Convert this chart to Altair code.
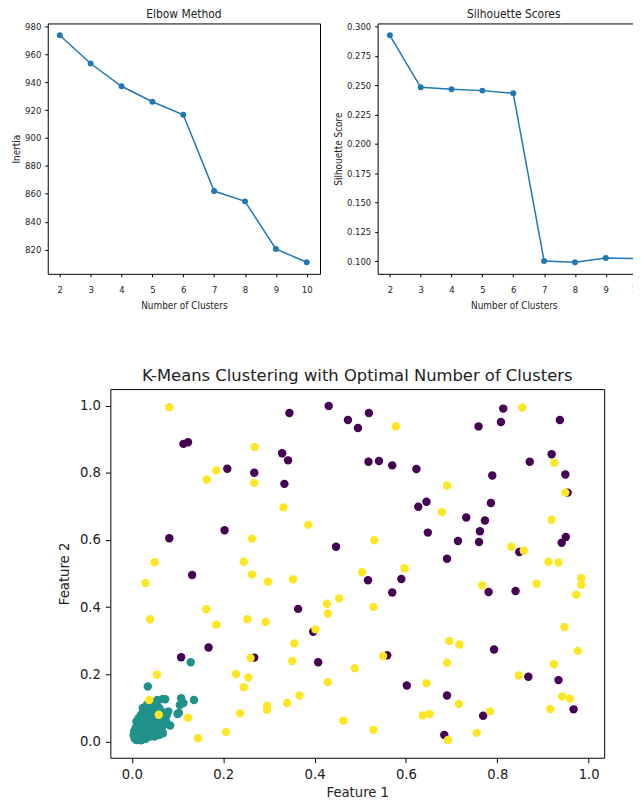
import altair as alt
import pandas as pd

# ---------------- data ----------------
clusters = [2, 3, 4, 5, 6, 7, 8, 9, 10]
inertia = [973.5, 953.3, 937.0, 925.9, 916.6, 862.0, 854.6, 820.5, 811.0]
silhouette = [0.2924, 0.2481, 0.2464, 0.2453, 0.2430, 0.1003, 0.0992, 0.1028, 0.1022]

purple_x = [0.113, 0.123, 0.209, 0.268, 0.329, 0.342, 0.345, 0.334, 0.431, 0.473,
            0.495, 0.082, 0.203, 0.447, 0.132, 0.519, 0.759, 0.808, 0.813, 0.937,
            0.518, 0.541, 0.570, 0.623, 0.871, 0.919, 0.949, 0.789, 0.954, 0.645,
            0.627, 0.786, 0.732, 0.773, 0.762, 0.648, 0.714, 0.760, 0.950, 0.941,
            0.848, 0.690, 0.364, 0.397, 0.408, 0.108, 0.168, 0.268, 0.517, 0.590,
            0.570, 0.781, 0.840, 0.793, 0.559, 0.602, 0.690, 0.769, 0.684, 0.868,
            0.934, 0.967]
purple_y = [0.886, 0.891, 0.812, 0.800, 0.858, 0.837, 0.978, 0.767, 0.999, 0.957,
            0.933, 0.605, 0.629, 0.580, 0.496, 0.978, 0.938, 0.951, 0.991, 0.957,
            0.833, 0.835, 0.822, 0.811, 0.833, 0.855, 0.795, 0.792, 0.741, 0.714,
            0.699, 0.710, 0.667, 0.658, 0.626, 0.622, 0.597, 0.594, 0.609, 0.592,
            0.564, 0.544, 0.395, 0.327, 0.236, 0.251, 0.280, 0.250, 0.480, 0.484,
            0.444, 0.445, 0.448, 0.274, 0.257, 0.167, 0.137, 0.077, 0.020, 0.193,
            0.183, 0.096]

yellow_x = [0.082, 0.164, 0.185, 0.269, 0.268, 0.332, 0.386, 0.263, 0.050, 0.245,
            0.263, 0.578, 0.855, 0.925, 0.690, 0.949, 0.679, 0.919, 0.531, 0.831,
            0.858, 0.912, 0.934, 0.504, 0.597, 0.298, 0.353, 0.030, 0.040, 0.163,
            0.185, 0.253, 0.293, 0.454, 0.427, 0.429, 0.402, 0.356, 0.351, 0.488,
            0.055, 0.228, 0.255, 0.245, 0.260, 0.429, 0.367, 0.340, 0.296, 0.296,
            0.237, 0.463, 0.206, 0.145, 0.123, 0.038, 0.059, 0.529, 0.767, 0.886,
            0.984, 0.984, 0.973, 0.947, 0.976, 0.695, 0.717, 0.690, 0.550, 0.645,
            0.716, 0.637, 0.652, 0.784, 0.755, 0.692, 0.529, 0.847, 0.924, 0.942,
            0.959, 0.916]
yellow_y = [0.995, 0.780, 0.807, 0.877, 0.770, 0.697, 0.645, 0.604, 0.534, 0.535,
            0.497, 0.938, 0.994, 0.830, 0.762, 0.741, 0.683, 0.660, 0.599, 0.580,
            0.568, 0.535, 0.533, 0.504, 0.516, 0.476, 0.483, 0.472, 0.364, 0.394,
            0.348, 0.364, 0.356, 0.426, 0.410, 0.381, 0.334, 0.292, 0.240, 0.218,
            0.199, 0.201, 0.191, 0.162, 0.249, 0.177, 0.137, 0.115, 0.107, 0.095,
            0.084, 0.062, 0.029, 0.010, 0.071, 0.124, 0.080, 0.401, 0.465, 0.470,
            0.487, 0.467, 0.437, 0.341, 0.270, 0.299, 0.289, 0.235, 0.255, 0.174,
            0.112, 0.078, 0.082, 0.090, 0.026, 0.005, 0.035, 0.197, 0.230, 0.134,
            0.128, 0.097]

teal_x = [0.129, 0.035, 0.073, 0.056, 0.108, 0.136, 0.105, 0.113, 0.100, 0.084,
          0.076, 0.103, 0.068, 0.060, 0.065, 0.070, 0.080, 0.045, 0.050, 0.030,
          0.025, 0.020, 0.015, 0.010, 0.012, 0.008, 0.005, 0.004, 0.006, 0.010,
          0.015, 0.020, 0.025, 0.030, 0.035, 0.040, 0.045, 0.050, 0.055, 0.060,
          0.065, 0.055, 0.045, 0.040, 0.030, 0.020, 0.035, 0.025, 0.018, 0.030,
          0.020, 0.035, 0.040, 0.028, 0.015, 0.050, 0.060, 0.070, 0.075, 0.045,
          0.038, 0.012, 0.022, 0.008, 0.050, 0.040, 0.055, 0.030, 0.015, 0.060,
          0.050, 0.068, 0.024, 0.033, 0.043]
teal_y = [0.236, 0.164, 0.126, 0.124, 0.129, 0.124, 0.109, 0.115, 0.082, 0.048,
          0.078, 0.085, 0.127, 0.100, 0.090, 0.070, 0.090, 0.095, 0.085, 0.100,
          0.090, 0.080, 0.070, 0.060, 0.050, 0.040, 0.030, 0.020, 0.010, 0.005,
          0.012, 0.020, 0.030, 0.040, 0.050, 0.060, 0.070, 0.065, 0.055, 0.045,
          0.035, 0.030, 0.025, 0.015, 0.008, 0.004, 0.020, 0.045, 0.035, 0.060,
          0.055, 0.075, 0.085, 0.070, 0.025, 0.045, 0.060, 0.050, 0.060, 0.040,
          0.030, 0.015, 0.012, 0.008, 0.100, 0.105, 0.110, 0.085, 0.045, 0.020,
          0.015, 0.025, 0.100, 0.110, 0.115]

# ---------------- styling ----------------
BLUE = "#1f77b4"
TOP_FONT = "DejaVu Sans Condensed, DejaVu Sans"
BOT_FONT = "DejaVu Sans"
FRAME = alt.ViewBackground(stroke="black", strokeWidth=1, fill="white")

def top_axis(**kw):
    base = dict(domain=False, grid=False, ticks=True, tickSize=3, tickColor="black",
                tickWidth=1, labelFont=TOP_FONT, labelFontSize=9.5, labelColor="#222",
                titleFont=TOP_FONT, titleFontSize=10, titleFontWeight="normal",
                titleColor="#222")
    base.update(kw)
    return alt.Axis(**base)

def bot_axis(**kw):
    base = dict(domain=False, grid=False, ticks=True, tickSize=5, tickColor="black",
                tickWidth=1, labelFont=BOT_FONT, labelFontSize=13.3, labelColor="#222",
                titleFont=BOT_FONT, titleFontSize=13.3, titleFontWeight="normal",
                titleColor="#222")
    base.update(kw)
    return alt.Axis(**base)

def line_panel(values, title, ytitle, ydomain, yticks, yfmt, xdomain, width):
    df = pd.DataFrame({"k": clusters, "v": values})
    base = alt.Chart(df).encode(
        x=alt.X("k:Q", scale=alt.Scale(domain=xdomain, nice=False, zero=False),
                axis=top_axis(values=clusters, format="d", title="Number of Clusters",
                              labelPadding=7.5, titlePadding=7)),
        y=alt.Y("v:Q", scale=alt.Scale(domain=ydomain, nice=False, zero=False),
                axis=top_axis(values=yticks, format=yfmt, title=ytitle,
                              labelPadding=4, titlePadding=3)),
    )
    line = base.mark_line(color=BLUE, strokeWidth=1.5)
    pts = base.mark_circle(color=BLUE, size=36, opacity=1)
    return alt.layer(line, pts).properties(
        width=width, height=252, view=FRAME,
        title=alt.TitleParams(title, font=TOP_FONT, fontSize=12, fontWeight="normal",
                              color="#222", anchor="middle", baseline="bottom",
                              offset=-12),
    )

elbow = line_panel(inertia, "Elbow Method", "Inertia", [802.7, 982.0],
                   [820, 840, 860, 880, 900, 920, 940, 960, 980], "d",
                   [1.61, 10.43], 274)
sil = line_panel(silhouette, "Silhouette Scores", "Silhouette Score", [0.0893, 0.3025],
                 [0.100, 0.125, 0.150, 0.175, 0.200, 0.225, 0.250, 0.275, 0.300], ".3f",
                 [1.604, 10.43], 274)

top_row = alt.hconcat(elbow, sil, spacing=12)

# scatter
rows = []
for cx, cy, lab in ((teal_x, teal_y, "1"), (purple_x, purple_y, "0"), (yellow_x, yellow_y, "2")):
    for a, b in zip(cx, cy):
        rows.append({"f1": a, "f2": b, "cluster": lab})
sdf = pd.DataFrame(rows)
sdf["order"] = range(len(sdf))

scatter = alt.Chart(sdf).mark_circle(size=72, opacity=1).encode(
    x=alt.X("f1:Q", scale=alt.Scale(domain=[-0.047, 1.034], nice=False, zero=False),
            axis=bot_axis(values=[0, 0.2, 0.4, 0.6, 0.8, 1.0], format=".1f",
                          title="Feature 1", labelPadding=5, titlePadding=5)),
    y=alt.Y("f2:Q", scale=alt.Scale(domain=[-0.048, 1.049], nice=False, zero=False),
            axis=bot_axis(values=[0, 0.2, 0.4, 0.6, 0.8, 1.0], format=".1f",
                          title="Feature 2", labelPadding=5, titlePadding=8)),
    color=alt.Color("cluster:N", legend=None,
                    scale=alt.Scale(domain=["0", "1", "2"],
                                    range=["#440154", "#21918c", "#fde725"])),
    order=alt.Order("order:Q"),
).properties(
    width=497, height=371, view=FRAME,
    title=alt.TitleParams("K-Means Clustering with Optimal Number of Clusters",
                          font=BOT_FONT, fontSize=16.5, fontWeight="normal", color="#222",
                          anchor="middle", baseline="bottom", offset=-11.7),
)

spacer = alt.Chart(pd.DataFrame({"v": [0]})).mark_point(opacity=0).encode(
    x=alt.X("v:Q", axis=None), y=alt.Y("v:Q", axis=None)
).properties(width=8.5, height=10,
             view=alt.ViewBackground(strokeOpacity=0, fillOpacity=0))

bottom_row = alt.hconcat(spacer, scatter, spacing=0)

# negative right padding: the silhouette panel runs past the page edge and is cut,
# as in the reference
chart = alt.vconcat(top_row, bottom_row, spacing=56).properties(
    padding={"left": 3, "top": -3, "right": -18, "bottom": 0},
    background="white",
)

chart.save("out.html", embed_options={"renderer": "svg", "actions": False})
